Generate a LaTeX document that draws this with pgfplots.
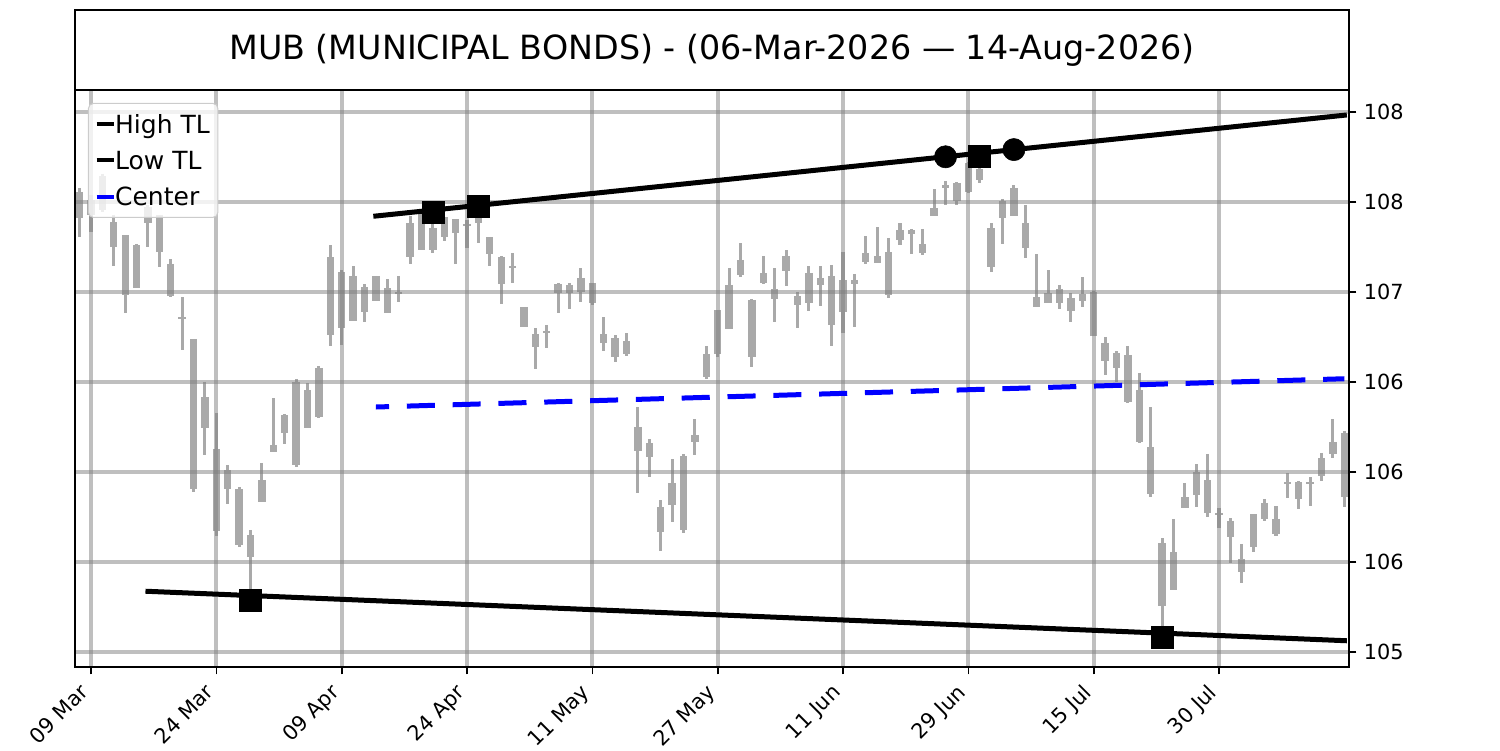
\documentclass[border=0pt]{standalone}
\usepackage{pgfplots}
\pgfplotsset{compat=1.18}
\usepackage{pgfplotstable}
\usepackage{fontspec}
\setmainfont{DejaVu Sans}
\definecolor{candle}{HTML}{A9A9A9}
\newcommand{\tf}{\fontsize{15bp}{18bp}\selectfont}
\pgfplotstableread{
i top bot hi lo
0 107.556 107.411 107.578 107.306
1 107.511 107.428 107.539 107.333
2 107.644 107.456 107.656 107.444
3 107.389 107.250 107.428 107.144
4 107.317 106.983 107.317 106.883
5 107.261 107.022 107.267 107.022
6 107.472 107.383 107.483 107.250
7 107.428 107.222 107.428 107.139
8 107.156 106.978 107.183 106.972
9 106.861 106.850 106.972 106.678
10 106.739 105.906 106.739 105.889
11 106.417 106.244 106.500 106.094
12 106.128 105.672 106.328 105.644
13 106.011 105.906 106.039 105.822
14 105.906 105.594 105.917 105.583
15 105.650 105.528 105.678 105.306
16 105.956 105.833 106.050 105.833
17 106.150 106.111 106.411 106.111
18 106.317 106.217 106.322 106.156
19 106.500 106.039 106.517 106.028
20 106.456 106.244 106.494 106.244
21 106.578 106.306 106.589 106.300
22 107.194 106.761 107.261 106.700
23 107.111 106.800 107.122 106.706
24 107.089 106.839 107.144 106.839
25 107.028 106.889 107.044 106.833
26 107.089 106.950 107.089 106.950
27 107.022 106.883 107.072 106.883
28 107.000 106.989 107.089 106.944
29 107.383 107.194 107.422 107.156
30 107.439 107.233 107.450 107.233
31 107.356 107.233 107.444 107.217
32 107.417 107.306 107.417 107.283
33 107.406 107.328 107.406 107.156
34 107.378 107.367 107.400 107.244
35 107.411 107.383 107.472 107.272
36 107.306 107.211 107.306 107.144
37 107.194 107.044 107.200 106.933
38 107.144 107.133 107.217 107.050
39 106.917 106.806 106.917 106.806
40 106.767 106.694 106.800 106.572
41 106.783 106.772 106.817 106.689
42 107.044 106.994 107.050 106.883
43 107.039 106.994 107.050 106.906
44 107.078 107.000 107.133 106.944
45 107.050 106.939 107.050 106.928
46 106.767 106.717 106.861 106.672
47 106.744 106.639 106.761 106.611
48 106.728 106.656 106.772 106.644
49 106.250 106.117 106.361 105.883
50 106.161 106.083 106.183 105.972
51 105.806 105.667 105.844 105.561
52 105.939 105.817 106.072 105.722
53 106.089 105.678 106.100 105.661
54 106.206 106.167 106.294 106.094
55 106.656 106.528 106.700 106.517
56 106.900 106.656 106.900 106.639
57 107.039 106.794 107.133 106.794
58 107.178 107.094 107.272 107.083
59 106.956 106.639 106.961 106.583
60 107.106 107.050 107.200 107.044
61 107.017 106.961 107.133 106.833
62 107.200 107.117 107.233 107.033
63 106.978 106.928 107.000 106.800
64 107.106 106.939 107.144 106.894
65 107.078 107.039 107.144 106.922
66 107.089 106.817 107.150 106.700
67 107.067 106.889 107.222 106.772
68 107.067 107.044 107.100 106.806
69 107.217 107.167 107.311 107.156
70 107.200 107.161 107.361 107.161
71 107.222 106.983 107.300 106.967
72 107.344 107.289 107.383 107.261
73 107.344 107.322 107.350 107.211
74 107.267 107.217 107.350 107.206
75 107.467 107.422 107.572 107.422
76 107.594 107.578 107.617 107.483
77 107.606 107.506 107.611 107.483
78 107.717 107.556 107.722 107.550
79 107.683 107.622 107.744 107.606
80 107.356 107.139 107.383 107.111
81 107.506 107.411 107.517 107.267
82 107.578 107.422 107.594 107.422
83 107.383 107.244 107.483 107.189
84 106.972 106.917 107.211 106.917
85 106.994 106.939 107.122 106.939
86 107.017 106.939 107.039 106.906
87 106.967 106.894 106.994 106.833
88 106.989 106.950 107.083 106.917
89 107.000 106.756 107.006 106.756
90 106.717 106.617 106.750 106.539
91 106.661 106.578 106.672 106.500
92 106.650 106.389 106.700 106.383
93 106.456 106.167 106.550 106.161
94 106.139 105.878 106.361 105.861
95 105.606 105.256 105.633 105.100
96 105.556 105.344 105.739 105.344
97 105.861 105.800 105.939 105.800
98 106.000 105.872 106.044 105.806
99 105.956 105.772 106.100 105.750
100 105.772 105.761 105.800 105.689
101 105.728 105.639 105.744 105.494
102 105.517 105.444 105.600 105.383
103 105.767 105.583 105.767 105.556
104 105.828 105.739 105.850 105.728
105 105.739 105.656 105.811 105.644
106 105.944 105.933 105.994 105.856
107 105.944 105.850 105.950 105.794
108 105.944 105.933 105.972 105.811
109 106.078 105.978 106.106 105.950
110 106.167 106.100 106.294 106.078
111 106.217 105.861 106.228 105.806
}\candles
\begin{document}
\begin{tikzpicture}[x=1bp,y=1bp]
\path (0,0) rectangle (1080,540);
\draw[line width=1.2bp] (54,475.2) rectangle (971.28,532.8);
\node[font=\fontsize{24bp}{28bp}\selectfont, inner sep=0pt] at (512.64,504) {MUB (MUNICIPAL BONDS) - (06-Mar-2026 — 14-Aug-2026)};
\begin{axis}[
  at={(54bp,59.76bp)}, anchor=south west,
  scale only axis, width=917.28bp, height=415.44bp,
  set layers, clip mode=individual,
  xmin=-0.404, xmax=111.41, ymin=104.9167, ymax=108.1222,
  xtick={1,12,23,34,45,56,67,78,89,100},
  xticklabels={09 Mar,24 Mar,09 Apr,24 Apr,11 May,27 May,11 Jun,29 Jun,15 Jul,30 Jul},
  ytick={105,105.5,106,106.5,107,107.5,108},
  yticklabels={105,106,106,106,107,108,108},
  xtick pos=left, ytick pos=right, yticklabel pos=right,
  tick align=outside, major tick length=5.25bp,
  every tick/.style={black, line width=1.2bp},
  axis line style={line width=1.2bp, black},
  grid=major, major grid style={gray, opacity=0.5, line width=3bp},
  xticklabel style={font=\tf, inner sep=0bp, xshift=-8.9bp, rotate=45, anchor=north east},
  yticklabel style={font=\tf, inner sep=0bp},
  xticklabel shift=5.9bp, yticklabel shift=5.25bp,
  legend style={at={(0.0102,0.9775)}, anchor=north west, draw=black!20, line width=0.72bp,
    rounded corners=3.5bp, fill=white, fill opacity=0.8, text opacity=1,
    font=\fontsize{18bp}{21bp}\selectfont, inner xsep=5.8bp, inner ysep=5.5bp, row sep=7.3bp,
    nodes={inner sep=0bp, text height=16bp, text depth=2.8bp}},
  legend cell align=left,
  legend image code/.code={\draw[#1, solid, line width=3bp, line cap=butt, overlay] (0bp,0bp) -- (12.6bp,0bp); \path[draw=none, fill=none] (0bp,-0.5bp) rectangle (13.4bp,0.5bp);},
]
\addplot[on layer=axis background, forget plot, draw=none, mark=none,
  error bars/.cd, y dir=minus, y explicit, error mark=none,
  error bar style={draw=candle, solid, line width=2.2bp}]
  table[x=i, y=hi, y error minus expr=\thisrow{hi}-\thisrow{lo}] {\candles};
\addplot[on layer=axis background, forget plot, draw=none, mark=none,
  error bars/.cd, y dir=minus, y explicit, error mark=none,
  error bar style={draw=candle, solid, line width=5.3bp}]
  table[x=i, y=top, y error minus expr=\thisrow{top}-\thisrow{bot}] {\candles};
\addplot[black, line width=3.6bp, line cap=rect, mark=none] coordinates {(26,107.422) (111,107.982)};
\addlegendentry{High TL}
\addplot[black, line width=3.6bp, line cap=rect, mark=none] coordinates {(6,105.337) (111,105.063)};
\addlegendentry{Low TL}
\addplot[blue, line width=3.6bp, mark=none, dash pattern=on 20.2bp off 12.8bp, dash phase=10.7bp] coordinates {(26,106.361) (111,106.518)};
\addlegendentry{Center}
\addplot[only marks, mark=square*, mark size=7.9bp, black, forget plot] coordinates {(31,107.444) (35,107.474) (79,107.756) (15,105.289) (95,105.084)};
\addplot[only marks, mark=*, mark size=8bp, black, forget plot] coordinates {(76,107.751) (82,107.791)};
\end{axis}
\end{tikzpicture}
\end{document}
